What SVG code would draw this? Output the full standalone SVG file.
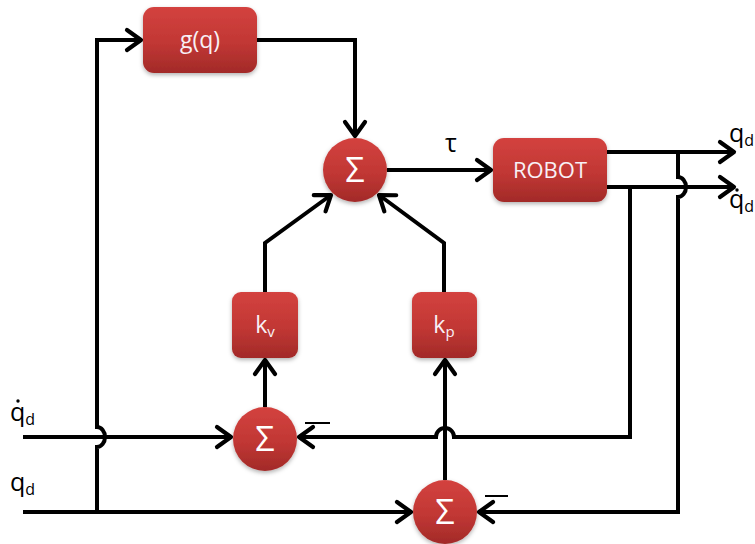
<svg xmlns="http://www.w3.org/2000/svg" width="755" height="544" viewBox="0 0 755 544">
  <defs>
    <linearGradient id="redFill" x1="0" y1="0" x2="0" y2="1">
      <stop offset="0" stop-color="#d3423f"/>
      <stop offset="0.55" stop-color="#c13734"/>
      <stop offset="1" stop-color="#a22a28"/>
    </linearGradient>
    <filter id="shade" x="-20%" y="-20%" width="140%" height="150%">
      <feDropShadow dx="0" dy="2" stdDeviation="2" flood-color="#000" flood-opacity="0.3"/>
    </filter>
    <marker id="arrow" markerUnits="userSpaceOnUse" markerWidth="22" markerHeight="26" viewBox="0 0 22 26" refX="19" refY="13" orient="auto">
      <path d="M5,3 L19,13 L5,23" fill="none" stroke="#000" stroke-width="4.2" stroke-linecap="round" stroke-linejoin="round"/>
    </marker>
  </defs>
  <style>
    .block { fill: url(#redFill); filter: url(#shade); }
    .inner { font-family: "Open Sans", "Liberation Sans", sans-serif; fill: #f8f0f6; text-anchor: middle; }
    .sigma { font-family: "Open Sans", "Liberation Sans", sans-serif; fill: #fff; text-anchor: middle; font-size: 34px; }
    .wire { fill: none; stroke: #000; stroke-width: 4; stroke-linejoin: miter; }
    .arr { marker-end: url(#arrow); }
    .lbl { font-family: "Open Sans", "Liberation Sans", sans-serif; fill: #000; font-size: 25px; }
    .minus { stroke: #000; stroke-width: 2; }
  </style>

  <rect width="755" height="544" fill="#fff"/>

  <g id="connectors">
    <!-- desired position: splits into g(q) feed (with crossing hop) -->
    <path class="wire arr" d="M97,512 V447 A8,10 0 0 0 97,427 V40 H141"/>
    <path class="wire" d="M23,512 H97"/>
    <path class="wire arr" d="M97,512 H411"/>
    <!-- desired velocity input -->
    <path class="wire arr" d="M23,437 H231"/>
    <!-- gravity term into upper summer -->
    <path class="wire arr" d="M257,40 H355 V136"/>
    <!-- torque to robot -->
    <path class="wire arr" d="M387,170 H491"/>
    <!-- robot outputs -->
    <path class="wire arr" d="M607,152 H734"/>
    <path class="wire arr" d="M607,187 H734"/>
    <!-- position feedback (hops over velocity output) -->
    <path class="wire arr" d="M678,152 V177 A8,10 0 0 1 678,197 V512 H479"/>
    <!-- velocity feedback (hops over kp input) -->
    <path class="wire arr" d="M630,187 V437 H454 A9,9 0 0 0 436,437 H299"/>
    <!-- error signals into gains -->
    <path class="wire arr" d="M265,407 V360"/>
    <path class="wire arr" d="M445,480 V360"/>
    <!-- gains into upper summer -->
    <path class="wire arr" d="M265,292 V243 L331,195"/>
    <path class="wire arr" d="M444,292 V243 L379,195"/>
    <!-- negative input markers -->
    <line class="minus" x1="305" y1="423" x2="330" y2="423"/>
    <line class="minus" x1="485" y1="496" x2="508" y2="496"/>
  </g>

  <g id="node-gq">
    <rect class="block" x="143" y="7" width="114" height="66" rx="11"/>
    <text class="inner" x="200" y="48" font-size="23">g(q)</text>
  </g>

  <g id="node-sum-top">
    <circle class="block" cx="355" cy="170" r="32"/>
    <text class="sigma" x="355" y="182">Σ</text>
  </g>

  <g id="node-robot">
    <rect class="block" x="493" y="138" width="114" height="64" rx="11"/>
    <text class="inner" x="550" y="178" font-size="22">ROBOT</text>
  </g>

  <g id="node-kv">
    <rect class="block" x="232" y="292" width="66" height="66" rx="9"/>
    <text class="inner" x="265" y="333" font-size="23">k<tspan font-size="15" dy="4">v</tspan></text>
  </g>

  <g id="node-kp">
    <rect class="block" x="412" y="292" width="65" height="66" rx="9"/>
    <text class="inner" x="444" y="333" font-size="23">k<tspan font-size="15" dy="4">p</tspan></text>
  </g>

  <g id="node-sum-v">
    <circle class="block" cx="265" cy="439" r="32"/>
    <text class="sigma" x="265" y="451">Σ</text>
  </g>

  <g id="node-sum-p">
    <circle class="block" cx="445" cy="512" r="32"/>
    <text class="sigma" x="445" y="524">Σ</text>
  </g>

  <g id="labels">
    <text class="lbl" x="445" y="152" font-size="27">τ</text>
    <text class="lbl" x="729" y="142">q<tspan font-size="16" dy="4">d</tspan></text>
    <text class="lbl" x="729" y="208">q<tspan font-size="16" dy="4">d</tspan></text>
    <circle cx="737" cy="190" r="1.7" fill="#000"/>
    <text class="lbl" x="10" y="421">q<tspan font-size="16" dy="4">d</tspan></text>
    <circle cx="18" cy="401" r="1.7" fill="#000"/>
    <text class="lbl" x="10" y="491">q<tspan font-size="16" dy="4">d</tspan></text>
  </g>
</svg>
